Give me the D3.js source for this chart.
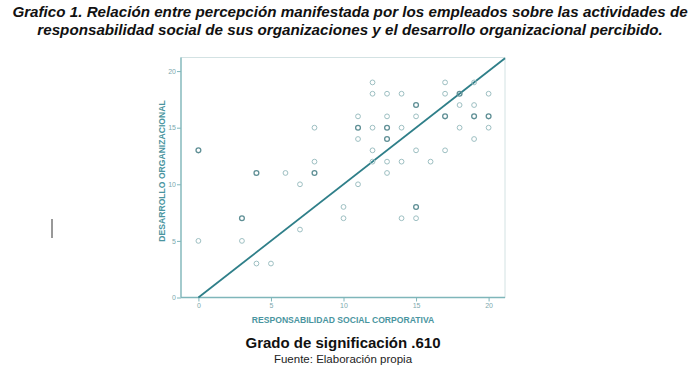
<!DOCTYPE html>
<html><head><meta charset="utf-8">
<script src="https://cdn.jsdelivr.net/npm/d3@7"></script>
<style>body{margin:0;background:#fff}svg{display:block}</style>
</head><body>
<svg id="c" width="700" height="378"></svg>
<script>
const titleLines = ["Grafico 1. Relación entre percepción manifestada por los empleados sobre las actividades de",
  "responsabilidad social de sus organizaciones y el desarrollo organizacional percibido."];
const xLabel = "RESPONSABILIDAD SOCIAL CORPORATIVA";
const yLabel = "DESARROLLO ORGANIZACIONAL";
const subtitle = "Grado de significación .610";
const source = "Fuente: Elaboración propia";
const xTicks = [0,5,10,15,20];
const yTicks = [0,5,10,15,20];
// points: x values, y values, count (overlapping cases)
const xs = [0,0,3,3,4,4,5,6,7,7,8,8,8,10,10,11,11,11,11,12,12,12,12,12,13,13,13,13,13,13,14,14,14,14,15,15,15,15,15,16,17,17,17,17,18,18,18,19,19,19,19,20,20,20];
const ys = [13,5,7,5,11,3,3,11,10,6,15,12,11,8,7,16,15,14,10,19,18,15,13,12,18,16,15,14,12,11,18,15,12,7,17,16,13,8,7,12,19,18,16,13,18,17,15,19,17,16,14,18,16,15];
const ns = [2,1,2,1,2,1,1,1,1,1,1,1,2,1,1,1,2,1,1,1,1,1,1,1,1,1,2,2,1,1,1,1,1,1,2,1,1,2,1,1,1,1,2,1,2,1,1,1,1,2,1,1,2,1];
const fitSlope = 1.0, fitIntercept = 0.0;

const svg = d3.select("#c");
const font = "'Liberation Sans', Arial, sans-serif";
const x = d3.scaleLinear().domain([-1.2, 21.13]).range([181, 505]);
const y = d3.scaleLinear().domain([0, 21.2]).range([297.5, 57.5]);

// title
svg.append("g").selectAll("text").data(titleLines).join("text")
  .attr("x", 350).attr("y", (d,i)=>17+i*18).attr("text-anchor","middle")
  .attr("font-family", font).attr("font-size", 15.2).attr("font-weight","bold").attr("font-style","italic")
  .attr("fill","#111").text(d=>d);

// frame
svg.append("rect").attr("x", 181).attr("y", 57.5).attr("width", 324).attr("height", 240)
  .attr("fill","none").attr("stroke","#d3e2e3").attr("stroke-width",1);

// axes
const xAxis = d3.axisBottom(x).tickValues(xTicks).tickSize(4).tickSizeOuter(0);
const gx = svg.append("g").attr("transform","translate(0,297.5)").call(xAxis);
const yAxis = d3.axisLeft(y).tickValues(yTicks).tickSize(4).tickSizeOuter(0);
const gy = svg.append("g").attr("transform","translate(181,0)").call(yAxis);
[gx, gy].forEach(g=>{
  g.select(".domain").attr("stroke","#7fb6ba").attr("stroke-width",1.3);
  g.selectAll(".tick line").attr("stroke","#7fb6ba");
  g.selectAll(".tick text").attr("font-family",font).attr("font-size",7).attr("fill","#7da9ae");
});
gx.select(".domain").attr("d","M181,0H505");
gy.select(".domain").attr("d","M0,57.5V297.5");
gx.selectAll(".tick text").attr("dy","0.9em").attr("y",4);
gy.selectAll(".tick text").attr("x",-5);

// regression line
svg.append("line")
  .attr("x1", x(0)).attr("y1", y(fitIntercept))
  .attr("x2", x(21.13)).attr("y2", y(fitIntercept + fitSlope*21.13))
  .attr("stroke","#2f7f89").attr("stroke-width",1.8);

// points
const pts = xs.map((v,i)=>({x:v, y:ys[i], n:ns[i]}));
svg.append("g").selectAll("circle").data(pts).join("circle")
  .attr("cx", d=>x(d.x)).attr("cy", d=>y(d.y)).attr("r", 2.4)
  .attr("fill","none")
  .attr("stroke", d=> d.n>1 ? "#5f8f95" : "#9dbfc2")
  .attr("stroke-width", d=> d.n>1 ? 1.3 : 1);

// axis titles
svg.append("text").attr("x", 343).attr("y", 323).attr("text-anchor","middle")
  .attr("font-family",font).attr("font-size",8.6).attr("font-weight","bold").attr("fill","#4a95a0").text(xLabel);
svg.append("text").attr("transform","translate(165,171) rotate(-90)").attr("text-anchor","middle")
  .attr("font-family",font).attr("font-size",8.6).attr("font-weight","bold").attr("fill","#4a95a0").text(yLabel);

// caption
svg.append("text").attr("x", 343).attr("y", 348).attr("text-anchor","middle")
  .attr("font-family",font).attr("font-size",15).attr("font-weight","bold").attr("fill","#111").text(subtitle);
svg.append("text").attr("x", 343).attr("y", 363).attr("text-anchor","middle")
  .attr("font-family",font).attr("font-size",11.5).attr("fill","#222").text(source);

// stray cursor mark in reference
svg.append("line").attr("x1",52).attr("x2",52).attr("y1",219).attr("y2",238).attr("stroke","#333").attr("stroke-width",1);
</script>
</body></html>
